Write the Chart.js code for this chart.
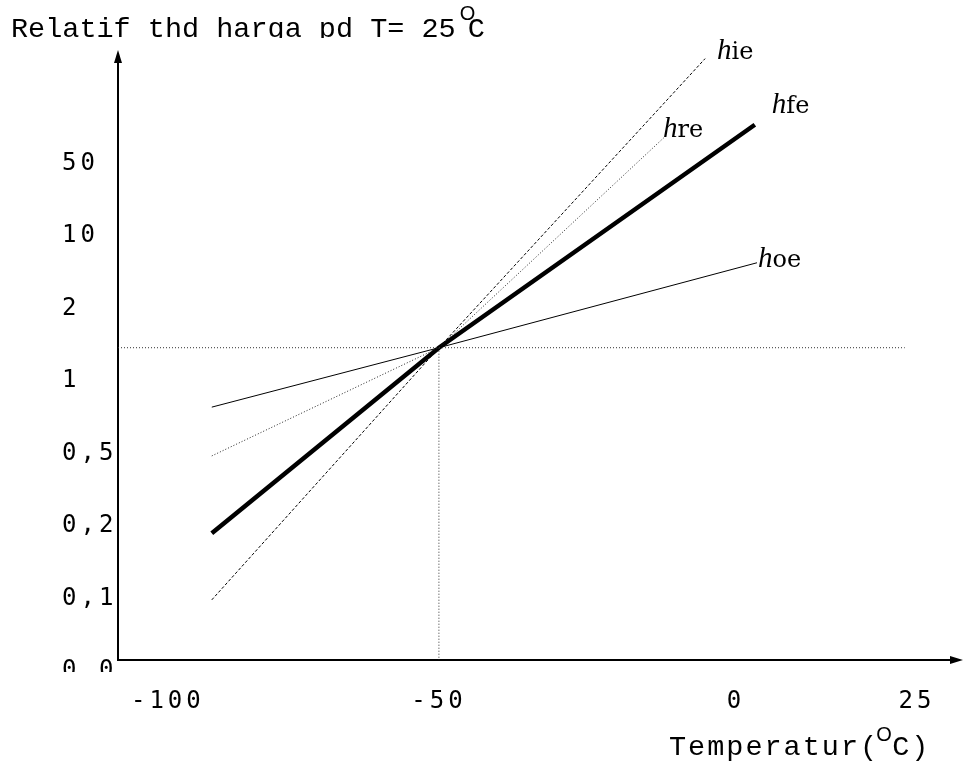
<!DOCTYPE html>
<html><head><meta charset="utf-8">
<script src="https://cdn.jsdelivr.net/npm/chart.js@4.4.1/dist/chart.umd.min.js"></script>
<style>html,body{margin:0;padding:0;background:#fff;}</style>
</head><body>
<canvas id="c" width="963" height="764"></canvas>
<script>
// ---- data ----
const xTickValues = [-100, -50, 0, 25];
const xTickLabels = ['-100', '-50', '0', '25'];
const yTickValues = [0, 0.1, 0.2, 0.5, 1, 2, 10, 50];
const yTickLabels = ['0,0', '0,1', '0,2', '0,5', '1', '2', '10', '50'];

const seriesNames = ['ie', 're', 'fe', 'oe'];
// each curve: start, common point at T = -50 °C, end
const hieT = [-91.9, -50, -5.2];  const hieV = [0.098, 1.46, 108];
const hreT = [-91.9, -50, -11.6]; const hreV = [0.49, 1.46, 66];
const hfeT = [-91.9, -50, 2.6];   const hfeV = [0.19, 1.46, 71.5];
const hoeT = [-91.9, -50, 2.9];   const hoeV = [0.82, 1.46, 7.06];

const refT = -50;     // reference temperature line
const refV = 1.46;    // reference level line
const refHT = [-109.2, 23.3];
const refVV = [1.46, 0.015];

// ---- axis calibration (hand-drawn, non-uniform spacing) ----
const AXIS_ANCHORS = {
  x: { values: xTickValues, pos: [0, 1, 2.096, 2.764] },
  y: { values: yTickValues, pos: [0, 1, 2, 3, 4, 5, 6, 7] }
};

class AnchoredScale extends Chart.LinearScale {
  _slot(v) {
    const a = AXIS_ANCHORS[this.id].values, p = AXIS_ANCHORS[this.id].pos, n = a.length;
    let i = 0;
    if (v >= a[n - 1]) i = n - 2;
    else if (v > a[0]) { while (i < n - 2 && v > a[i + 1]) i++; }
    return p[i] + (v - a[i]) / (a[i + 1] - a[i]) * (p[i + 1] - p[i]);
  }
  _unslot(s) {
    const a = AXIS_ANCHORS[this.id].values, p = AXIS_ANCHORS[this.id].pos, n = p.length;
    let i = 0;
    if (s >= p[n - 1]) i = n - 2;
    else if (s > p[0]) { while (i < n - 2 && s > p[i + 1]) i++; }
    return a[i] + (s - p[i]) / (p[i + 1] - p[i]) * (a[i + 1] - a[i]);
  }
  getPixelForValue(v) {
    const s0 = this._slot(this.min), s1 = this._slot(this.max);
    return this.getPixelForDecimal((this._slot(v) - s0) / (s1 - s0));
  }
  getValueForPixel(px) {
    const s0 = this._slot(this.min), s1 = this._slot(this.max);
    return this._unslot(s0 + this.getDecimalForPixel(px) * (s1 - s0));
  }
}
AnchoredScale.id = 'anchored';
AnchoredScale.defaults = Chart.LinearScale.defaults;
Chart.register(AnchoredScale);

const pts = (xs, ys) => xs.map((x, i) => ({ x: x, y: ys[i] }));

const labelOffsets = { ie: [12, 0], re: [-4, 2], fe: [17, -12], oe: [1, 4] };

const decor = {
  id: 'decor',
  beforeDraw(chart) { chart.ctx.letterSpacing = '4px'; },
  beforeDatasetsDraw(chart) { chart.ctx.letterSpacing = '0px'; },
  afterDraw(chart) {
    const ctx = chart.ctx, ca = chart.chartArea;
    ctx.save();
    ctx.letterSpacing = '0px';
    // hide the lower part of the cut "0,0" label
    ctx.fillStyle = '#fff';
    ctx.fillRect(55, 672, ca.left - 56, 16);
    ctx.fillStyle = '#000';
    // arrow heads
    ctx.beginPath();
    ctx.moveTo(ca.left, ca.top - 5);
    ctx.lineTo(ca.left - 4, ca.top + 8);
    ctx.lineTo(ca.left + 4, ca.top + 8);
    ctx.closePath(); ctx.fill();
    ctx.beginPath();
    ctx.moveTo(ca.right + 8, ca.bottom);
    ctx.lineTo(ca.right - 5, ca.bottom - 4);
    ctx.lineTo(ca.right - 5, ca.bottom + 4);
    ctx.closePath(); ctx.fill();
    // title (clipped at the top like the original)
    ctx.save();
    ctx.beginPath(); ctx.rect(0, 0, chart.width, 38); ctx.clip();
    ctx.textBaseline = 'alphabetic'; ctx.textAlign = 'left';
    ctx.font = '28.5px "Liberation Mono"';
    const t1 = 'Relatif thd harga pd T= 25';
    ctx.fillText(t1, 11, 37);
    const w1 = ctx.measureText(t1).width;
    ctx.font = '20px "Liberation Sans"';
    ctx.fillText('O', 11 + w1 + 4, 20);
    ctx.font = '28.5px "Liberation Mono"';
    ctx.fillText('C', 11 + w1 + 12, 37);
    ctx.restore();
    // x axis title
    ctx.textBaseline = 'alphabetic'; ctx.textAlign = 'left';
    ctx.letterSpacing = '2px';
    ctx.font = '28.5px "Liberation Mono"';
    ctx.fillText('Temperatur(', 669, 755);
    const w2 = ctx.measureText('Temperatur(').width;
    ctx.letterSpacing = '0px';
    ctx.font = '20px "Liberation Sans"';
    ctx.fillText('O', 669 + w2 - 3, 741);
    ctx.letterSpacing = '2px';
    ctx.font = '28.5px "Liberation Mono"';
    ctx.fillText('C)', 669 + w2 + 13, 755);
    ctx.letterSpacing = '0px';
    // series labels h_xx at the end of each line
    chart.data.datasets.forEach((ds, i) => {
      if (!ds.hName) return;
      const meta = chart.getDatasetMeta(i);
      const last = meta.data[meta.data.length - 1];
      const off = labelOffsets[ds.hName];
      const x = last.x + off[0], y = last.y + off[1];
      ctx.font = 'italic 29px "Liberation Serif"';
      ctx.fillText('h', x, y);
      const wh = ctx.measureText('h').width;
      ctx.font = '24px "DejaVu Serif"';
      ctx.fillText(ds.hName, x + wh, y);
    });
    ctx.restore();
  }
};

const axisCommon = {
  type: 'anchored',
  grid: { display: true, drawOnChartArea: false, drawTicks: false },
  border: { display: true, color: '#000', width: 2 },
};

new Chart(document.getElementById('c'), {
  type: 'scatter',
  data: {
    datasets: [
      { data: pts(refHT, [refV, refV]), showLine: true, borderColor: '#333', borderWidth: 1, borderDash: [1, 2], pointRadius: 0 },
      { data: pts([refT, refT], refVV), showLine: true, borderColor: '#333', borderWidth: 1, borderDash: [1, 2], pointRadius: 0 },
      { hName: seriesNames[0], data: pts(hieT, hieV), showLine: true, borderColor: '#000', borderWidth: 1, borderDash: [3, 2], pointRadius: 0 },
      { hName: seriesNames[1], data: pts(hreT, hreV), showLine: true, borderColor: '#222', borderWidth: 1, borderDash: [1, 2], pointRadius: 0 },
      { hName: seriesNames[2], data: pts(hfeT, hfeV), showLine: true, borderColor: '#000', borderWidth: 4.5, pointRadius: 0 },
      { hName: seriesNames[3], data: pts(hoeT, hoeV), showLine: true, borderColor: '#000', borderWidth: 1, pointRadius: 0 }
    ]
  },
  options: {
    responsive: false,
    animation: false,
    events: [],
    layout: { padding: { left: 62, top: 55, right: 8, bottom: 44 } },
    plugins: { legend: { display: false }, tooltip: { enabled: false }, title: { display: false } },
    scales: {
      x: Object.assign({}, axisCommon, {
        position: 'bottom', min: -109.2, max: 30.24,
        afterBuildTicks: (s) => { s.ticks = xTickValues.map(v => ({ value: v })); },
        afterFit: (s) => { s.height = 60; },
        ticks: { autoSkip: false, maxRotation: 0, padding: 27, color: '#000',
          font: { family: 'DejaVu Sans Mono', size: 24 },
          callback: (v, i) => xTickLabels[i] }
      }),
      y: Object.assign({}, axisCommon, {
        position: 'left', min: 0.015, max: 110,
        afterBuildTicks: (s) => { s.ticks = yTickValues.map(v => ({ value: v })); },
        afterFit: (s) => { s.width = 56; },
        ticks: { autoSkip: false, crossAlign: 'far', padding: 0, color: '#000',
          font: { family: 'DejaVu Sans Mono', size: 24 },
          callback: (v, i) => yTickLabels[i] }
      })
    }
  },
  plugins: [decor]
});
</script>
</body></html>
